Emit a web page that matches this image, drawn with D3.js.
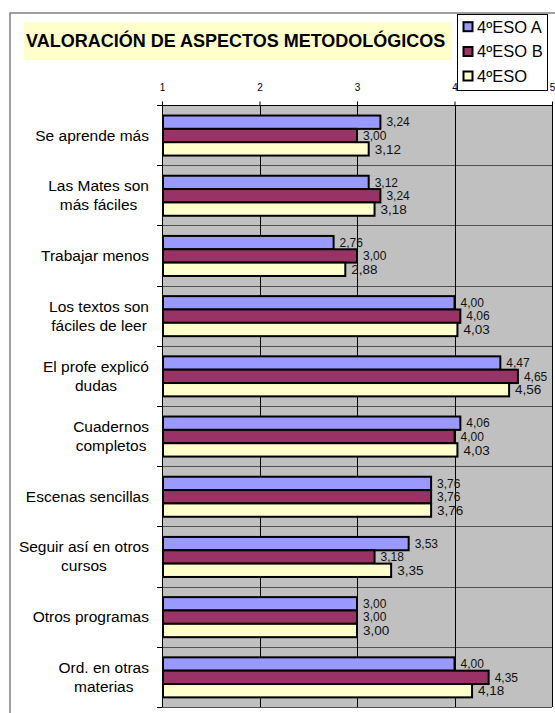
<!DOCTYPE html>
<html>
<head>
<meta charset="utf-8">
<script src="https://cdn.jsdelivr.net/npm/d3@7"></script>
<style>
  html, body { margin: 0; padding: 0; background: #fff; }
  svg { display: block; font-family: "Liberation Sans", Arial, sans-serif; }
</style>
</head>
<body>
<svg id="chart" width="555" height="713"></svg>
<script>
const title = "VALORACIÓN DE ASPECTOS METODOLÓGICOS";
const categories = [
  "Se aprende más",
  "Las Mates son\nmás fáciles",
  "Trabajar menos",
  "Los textos son\nfáciles de leer",
  "El profe explicó\ndudas",
  "Cuadernos\ncompletos",
  "Escenas sencillas",
  "Seguir así en otros\ncursos",
  "Otros programas",
  "Ord. en otras\nmaterias"
];
const seriesNames = ["4ºESO A", "4ºESO B", "4ºESO"];
const valuesA = [3.24, 3.12, 2.76, 4.00, 4.47, 4.06, 3.76, 3.53, 3.00, 4.00];
const valuesB = [3.00, 3.24, 3.00, 4.06, 4.65, 4.00, 3.76, 3.18, 3.00, 4.35];
const valuesC = [3.12, 3.18, 2.88, 4.03, 4.56, 4.03, 3.76, 3.35, 3.00, 4.18];
const tickValues = [1, 2, 3, 4, 5];
const colors = ["#9999FF", "#993366", "#FFFFCC"];

const allSeries = [valuesA, valuesB, valuesC];
const svg = d3.select("#chart");

// outer frame
svg.append("rect").attr("x", 10).attr("y", 13).attr("width", 560).attr("height", 720)
  .attr("fill", "none").attr("stroke", "#808080").attr("stroke-width", 1.5);

// plot geometry
const pLeft = 162, pRight = 552, pTop = 105, pBottom = 707;
const x = d3.scaleLinear().domain([1, 5]).range([pLeft, pRight]);
const y = d3.scaleBand().domain(categories).range([pTop, pBottom]).padding(0);
const yi = d3.scaleBand().domain([0, 1, 2])
  .range([y.bandwidth() * 0.175, y.bandwidth() * 0.84]).padding(0);

// plot background
svg.append("rect").attr("x", pLeft).attr("y", pTop)
  .attr("width", pRight - pLeft).attr("height", pBottom - pTop).attr("fill", "#C0C0C0");

// horizontal category gridlines
svg.append("g").selectAll("line").data(categories.slice(1)).join("line")
  .attr("x1", pLeft).attr("x2", pRight)
  .attr("y1", d => Math.round(y(d)) + 0.5).attr("y2", d => Math.round(y(d)) + 0.5)
  .attr("stroke", "#505050").attr("stroke-width", 1);

// vertical value gridlines
svg.append("g").selectAll("line").data(tickValues.slice(1)).join("line")
  .attr("x1", d => Math.round(x(d)) + 0.5).attr("x2", d => Math.round(x(d)) + 0.5)
  .attr("y1", pTop).attr("y2", pBottom)
  .attr("stroke", "#000").attr("stroke-width", 1);

// bottom edge
svg.append("line").attr("x1", pLeft).attr("x2", pRight).attr("y1", pBottom + 0.5).attr("y2", pBottom + 0.5)
  .attr("stroke", "#505050");

// top value axis
const xAxis = d3.axisTop(x).tickValues(tickValues).tickSize(4).tickPadding(11)
  .tickFormat(d3.format("d"));
const gx = svg.append("g").attr("transform", `translate(0,${pTop + 0.5})`).call(xAxis);
gx.select(".domain").attr("stroke", "#000").attr("d", `M${pLeft},0H${pRight}`);
gx.selectAll(".tick line").attr("stroke", "#000");
gx.selectAll(".tick text").attr("font-size", 10).attr("fill", "#000")
  .attr("font-family", "'Liberation Sans', Arial, sans-serif");

// left category axis line + ticks
svg.append("line").attr("x1", pLeft + 0.5).attr("x2", pLeft + 0.5).attr("y1", pTop).attr("y2", pBottom)
  .attr("stroke", "#000");
const boundaries = categories.map(c => y(c)).concat([pBottom]);
svg.append("g").selectAll("line").data(boundaries).join("line")
  .attr("x1", pLeft - 5).attr("x2", pLeft)
  .attr("y1", d => Math.round(d) + 0.5).attr("y2", d => Math.round(d) + 0.5)
  .attr("stroke", "#000");

// bars
const barData = [];
categories.forEach((c, i) => {
  allSeries.forEach((s, j) => barData.push({ cat: c, s: j, v: s[i] }));
});
svg.append("g").selectAll("rect").data(barData).join("rect")
  .attr("x", x(1) + 1)
  .attr("y", d => y(d.cat) + yi(d.s))
  .attr("width", d => x(d.v) - x(1) - 1)
  .attr("height", yi.bandwidth())
  .attr("fill", d => colors[d.s])
  .attr("stroke", "#000").attr("stroke-width", 2);

// value labels
const fmt = v => v.toFixed(2).replace(".", ",");
svg.append("g").selectAll("text").data(barData).join("text")
  .attr("x", d => x(d.v) + 6)
  .attr("y", d => y(d.cat) + yi(d.s) + yi.bandwidth() / 2)
  .attr("dy", "0.35em")
  .attr("font-size", d => d.s === 2 ? 13.5 : 12)
  .attr("fill", "#111")
  .text(d => fmt(d.v));

// category labels
const labelRight = 149, lineH = 19;
const catG = svg.append("g").attr("font-size", 15.5).attr("fill", "#000");
categories.forEach(c => {
  const lines = c.split("\n");
  const cy = y(c) + y.bandwidth() / 2;
  const t = catG.append("text").attr("text-anchor", "middle");
  const spans = lines.map((ln, k) => t.append("tspan")
    .attr("y", cy + (k - (lines.length - 1) / 2) * lineH)
    .attr("dy", "0.35em").text(ln));
  const maxW = d3.max(spans, s => s.node().getComputedTextLength());
  spans.forEach(s => s.attr("x", labelRight - maxW / 2));
});

// title
svg.append("rect").attr("x", 24).attr("y", 22).attr("width", 428).attr("height", 38)
  .attr("fill", "#FFFFCC");
svg.append("text").attr("x", 26).attr("y", 46.5)
  .attr("font-size", 18).attr("font-weight", "bold").attr("fill", "#000")
  .text(title);

// legend
const lg = svg.append("g");
lg.append("rect").attr("x", 457.5).attr("y", 14.5).attr("width", 90).attr("height", 76)
  .attr("fill", "#fff").attr("stroke", "#000").attr("stroke-width", 1);
const legY = [26.7, 51.5, 76];
seriesNames.forEach((n, j) => {
  lg.append("rect").attr("x", 463.5).attr("y", legY[j] - 4.5).attr("width", 9).attr("height", 9)
    .attr("fill", colors[j]).attr("stroke", "#000").attr("stroke-width", 2);
  lg.append("text").attr("x", 477).attr("y", legY[j]).attr("dy", "0.36em")
    .attr("font-size", 16.5).attr("fill", "#000").text(n);
});
</script>
</body>
</html>
